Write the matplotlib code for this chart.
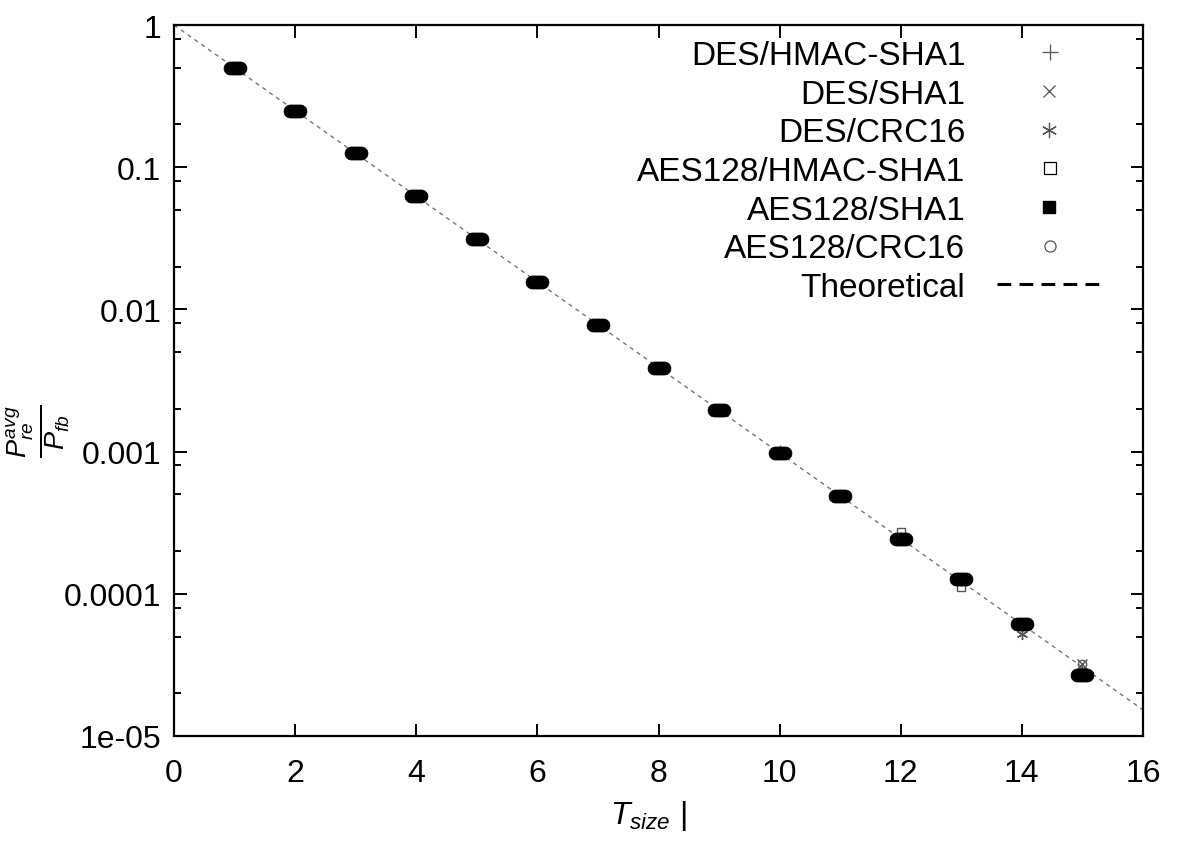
import numpy as np
import matplotlib
matplotlib.use("Agg")
import matplotlib.pyplot as plt
from matplotlib.path import Path
from matplotlib.lines import Line2D
from matplotlib.ticker import FixedLocator, FixedFormatter, LogLocator, NullFormatter

plt.rcParams['font.family'] = ['Liberation Sans', 'DejaVu Sans']
plt.rcParams['mathtext.fontset'] = 'custom'
plt.rcParams['mathtext.rm'] = 'Liberation Sans'
plt.rcParams['mathtext.it'] = 'Liberation Sans:italic'
plt.rcParams['mathtext.bf'] = 'Liberation Sans:bold'

# ---------------- data ----------------
t_size = [1, 2, 3, 4, 5, 6, 7, 8, 9, 10, 11, 12, 13, 14, 15]
des_hmac_sha1 = [0.5, 0.25, 0.125, 0.0625, 0.0312, 0.0156, 0.0078, 0.0039, 0.00195, 0.00101,
                 0.00049, 0.000245, 0.000125, 0.000061, 0.000028]
des_sha1 = [0.5, 0.25, 0.125, 0.0625, 0.0312, 0.0156, 0.0078, 0.0039, 0.00195, 0.00098,
            0.00049, 0.000245, 0.000125, 0.000061, 0.000032]
des_crc16 = [0.5, 0.25, 0.125, 0.0625, 0.0312, 0.0156, 0.0078, 0.0039, 0.00195, 0.00098,
             0.00049, 0.000245, 0.000125, 0.000052, 0.000028]
aes128_hmac_sha1 = [0.5, 0.25, 0.125, 0.0625, 0.0312, 0.0156, 0.0078, 0.0039, 0.00195, 0.00098,
                    0.00049, 0.000272, 0.000112, 0.000061, 0.000028]
aes128_sha1 = [0.5, 0.25, 0.125, 0.0625, 0.0312, 0.0156, 0.0078, 0.0039, 0.00195, 0.00098,
               0.00049, 0.000243, 0.000127, 0.000061, 0.000027]
aes128_crc16 = [0.5, 0.25, 0.125, 0.0625, 0.0312, 0.0156, 0.0078, 0.0039, 0.00195, 0.00098,
                0.00049, 0.000245, 0.000125, 0.000061, 0.000032]
theo_x = [0, 16]
theo_y = [1.0, 1.5259e-05]

labels = ["DES/HMAC-SHA1", "DES/SHA1", "DES/CRC16", "AES128/HMAC-SHA1",
          "AES128/SHA1", "AES128/CRC16", "Theoretical"]
x_ticks = [0, 2, 4, 6, 8, 10, 12, 14, 16]
y_ticks = [1e-5, 1e-4, 1e-3, 1e-2, 1e-1, 1]
y_tick_labels = ["1e-05", "0.0001", "0.001", "0.01", "0.1", "1"]

# ---------------- figure ----------------
fig = plt.figure(figsize=(11.78, 8.53), dpi=100)
ax = fig.add_axes([174/1178, (853-737)/853, (1143-174)/1178, (737-26)/853])

# stadium-shaped marker for the dense sample clusters
th = np.linspace(-np.pi/2, np.pi/2, 20)
r = 0.5
right = np.column_stack([0.38 + r*np.cos(th), r*np.sin(th)])
left = np.column_stack([-0.38 - r*np.cos(th), -r*np.sin(th)])
verts = np.vstack([right, left, right[:1]])
blob = Path(verts, closed=True)

gray = '#555555'
ax.plot(theo_x, theo_y, color='#777777', lw=1.0, ls=(0, (3, 3)), zorder=1)

ax.plot(t_size, des_hmac_sha1, ls='none', marker='+', color=gray, ms=8, mew=1, zorder=2)
ax.plot(t_size, des_sha1, ls='none', marker='x', color=gray, ms=7, mew=1, zorder=2)
ax.plot(t_size, des_crc16, ls='none', marker=(6, 2, 0), color=gray, ms=8, mew=1, zorder=2)
ax.plot(t_size, aes128_hmac_sha1, ls='none', marker='s', mfc='none', mec=gray, ms=6, mew=1, zorder=2)
ax.plot(t_size, aes128_crc16, ls='none', marker='o', mfc='none', mec=gray, ms=6, mew=1, zorder=2)
ax.plot(t_size, aes128_sha1, ls='none', marker=blob, color='black', ms=16.5, mew=0.5, zorder=3)

ax.set_xlim(0, 16)
ax.set_yscale('log')
ax.set_ylim(1e-5, 1)
ax.xaxis.set_major_locator(FixedLocator(x_ticks))
ax.yaxis.set_major_locator(FixedLocator(y_ticks))
ax.yaxis.set_major_formatter(FixedFormatter(y_tick_labels))
ax.yaxis.set_minor_locator(LogLocator(base=10, subs=[2, 5, 8]))
ax.yaxis.set_minor_formatter(NullFormatter())

for s in ax.spines.values():
    s.set_linewidth(1.6)
ax.tick_params(which='both', direction='in', top=True, right=True, width=1.4)
ax.tick_params(which='major', length=9, labelsize=23)
ax.tick_params(axis='x', which='major', pad=16)
ax.tick_params(axis='y', which='major', pad=9)
ax.tick_params(which='minor', length=5)

ax.set_xlabel(r'$T_{size}$ |', fontsize=23)
ax.xaxis.set_label_coords(0.49, -0.087)
ax.set_ylabel(r'$\frac{P^{avg}_{re}}{P_{fb}}$', fontsize=28, rotation=90)
ax.yaxis.set_label_coords(-0.105, 0.43)

handles = [
    Line2D([], [], ls='none', marker='+', color=gray, ms=11, mew=0.9),
    Line2D([], [], ls='none', marker='x', color=gray, ms=9, mew=0.9),
    Line2D([], [], ls='none', marker=(6, 2, 0), color=gray, ms=11, mew=0.9),
    Line2D([], [], ls='none', marker='s', mfc='none', mec='black', ms=8, mew=0.9),
    Line2D([], [], ls='none', marker='s', color='black', ms=8),
    Line2D([], [], ls='none', marker='o', mfc='none', mec=gray, ms=8, mew=0.9),
    Line2D([], [], color='black', lw=2.2, ls=(0, (4.5, 2.7))),
]
leg = ax.legend(handles, labels, loc='upper right', bbox_to_anchor=(1102/1178, (853-41)/853),
                bbox_transform=fig.transFigure, frameon=False, markerfirst=False,
                fontsize=24, handlelength=3.15, handletextpad=0.95, labelspacing=0.23,
                borderpad=0, borderaxespad=0)

fig.savefig('out.png', dpi=100, facecolor='white')
